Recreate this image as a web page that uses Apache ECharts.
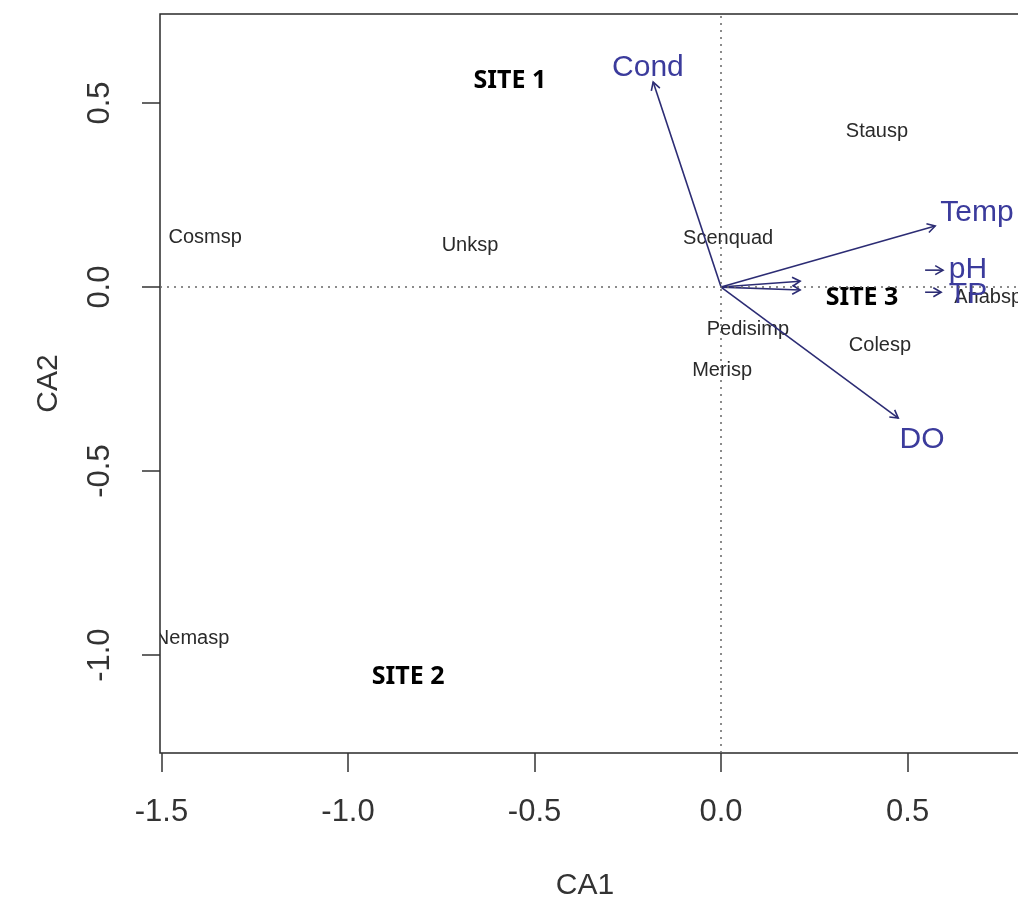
<!DOCTYPE html>
<html>
<head>
<meta charset="utf-8">
<script src="https://cdn.jsdelivr.net/npm/echarts@6/dist/echarts.min.js"></script>
<style>
  html, body { margin: 0; padding: 0; background: #fff; }
  #chart { width: 1018px; height: 900px; }
</style>
</head>
<body>
<div id="chart"></div>
<script>
// axis ticks
const xTicks = [-1.5, -1.0, -0.5, 0.0, 0.5];
const yTicks = [-1.0, -0.5, 0.0, 0.5];

// species scores (text labels)
const speciesNames = ['Cosmsp', 'Unksp', 'Scenquad', 'Stausp', 'Pedisimp', 'Merisp', 'Colesp', 'Anabsp', 'Nemasp'];
const speciesCA1 = [-1.383, -0.673, 0.019, 0.418, 0.072, 0.003, 0.426, 0.716, -1.418];
const speciesCA2 = [0.136, 0.114, 0.133, 0.424, -0.114, -0.226, -0.158, -0.027, -0.954];

// site annotations
const siteNames = ['SITE 1', 'SITE 2', 'SITE 3'];
const siteCA1 = [-0.566, -0.839, 0.378];
const siteCA2 = [0.560, -1.060, -0.030];

// environmental vectors (arrow tips from origin) and their labels
const envNames = ['Cond', 'Temp', 'DO', 'pH', 'TP'];
const envCA1 = [-0.182, 0.574, 0.475, 0.212, 0.212];
const envCA2 = [0.557, 0.166, -0.356, 0.016, -0.008];
const envLabelCA1 = [-0.196, 0.686, 0.539, 0.662, 0.662];
const envLabelCA2 = [0.595, 0.201, -0.416, 0.046, -0.022];

// little arrows drawn next to the pH / TP labels
const stubFromCA1 = [0.547, 0.547];
const stubToCA1 = [0.595, 0.590];
const stubCA2 = [0.046, -0.014];

const chart = echarts.init(document.getElementById('chart'));

const arrowData = envCA1.map((x, i) => [0, 0, x, envCA2[i]])
  .concat(stubFromCA1.map((x, i) => [x, stubCA2[i], stubToCA1[i], stubCA2[i]]));

function textSeries(names, xs, ys, style) {
  return {
    type: 'custom',
    clip: true,
    silent: true,
    data: xs.map((x, i) => [x, ys[i]]),
    renderItem(params, api) {
      const p = api.coord([api.value(0), api.value(1)]);
      return {
        type: 'text',
        x: p[0],
        y: p[1],
        style: Object.assign({
          text: names[params.dataIndex],
          align: 'center',
          verticalAlign: 'middle'
        }, style)
      };
    }
  };
}

chart.setOption({
  animation: false,
  grid: {
    left: 160,
    top: 14,
    width: 880,
    height: 739,
    outerBoundsMode: 'none',
    show: true,
    borderColor: '#2a2a2a',
    borderWidth: 1.5,
    backgroundColor: 'transparent'
  },
  xAxis: {
    type: 'value',
    min: -1.504,
    max: 0.855,
    name: 'CA1',
    nameLocation: 'middle',
    nameGap: 118,
    nameTextStyle: { fontFamily: 'Liberation Sans', fontSize: 30, color: '#333', padding: [0, 30, 0, 0] },
    axisLine: { show: false, onZero: false },
    splitLine: { show: false },
    axisTick: { show: true, length: 19, customValues: xTicks, lineStyle: { color: '#333', width: 1.5 } },
    axisLabel: {
      customValues: xTicks,
      margin: 44,
      fontFamily: 'Liberation Sans',
      fontSize: 31,
      color: '#333',
      formatter: v => v.toFixed(1)
    }
  },
  yAxis: {
    type: 'value',
    min: -1.266,
    max: 0.742,
    name: 'CA2',
    nameLocation: 'middle',
    nameGap: 96,
    nameTextStyle: { fontFamily: 'Liberation Sans', fontSize: 30, color: '#333' },
    axisLine: { show: false, onZero: false },
    splitLine: { show: false },
    axisTick: { show: true, length: 18, customValues: yTicks, lineStyle: { color: '#333', width: 1.5 } },
    axisLabel: {
      customValues: yTicks,
      rotate: 90,
      margin: 44,
      fontFamily: 'Liberation Sans',
      fontSize: 31,
      color: '#333',
      formatter: v => v.toFixed(1)
    }
  },
  series: [
    Object.assign(textSeries(speciesNames, speciesCA1, speciesCA2, {
      fill: '#2a2a2a',
      font: '20px "Liberation Sans"'
    }), {
      markLine: {
        silent: true,
        symbol: 'none',
        label: { show: false },
        lineStyle: { color: '#666', width: 1.5, type: [2, 5] },
        data: [{ xAxis: 0 }, { yAxis: 0 }]
      }
    }),
    {
      type: 'custom',
      clip: true,
      silent: true,
      data: arrowData,
      encode: { x: [0, 2], y: [1, 3] },
      renderItem(params, api) {
        const a = api.coord([api.value(0), api.value(1)]);
        const b = api.coord([api.value(2), api.value(3)]);
        const ang = Math.atan2(b[1] - a[1], b[0] - a[0]);
        const len = 9, spread = Math.PI / 6;
        const h1 = [b[0] - len * Math.cos(ang - spread), b[1] - len * Math.sin(ang - spread)];
        const h2 = [b[0] - len * Math.cos(ang + spread), b[1] - len * Math.sin(ang + spread)];
        const style = { stroke: '#2c2c74', lineWidth: 1.6, fill: null };
        return {
          type: 'group',
          children: [
            { type: 'line', shape: { x1: a[0], y1: a[1], x2: b[0], y2: b[1] }, style },
            { type: 'polyline', shape: { points: [h1, b, h2] }, style }
          ]
        };
      }
    },
    textSeries(envNames, envLabelCA1, envLabelCA2, {
      fill: '#3b3b9c',
      font: '30px "Liberation Sans"'
    }),
    textSeries(siteNames, siteCA1, siteCA2, {
      fill: '#000',
      font: 'bold 25px "Noto Sans"'
    })
  ]
});
</script>
</body>
</html>
